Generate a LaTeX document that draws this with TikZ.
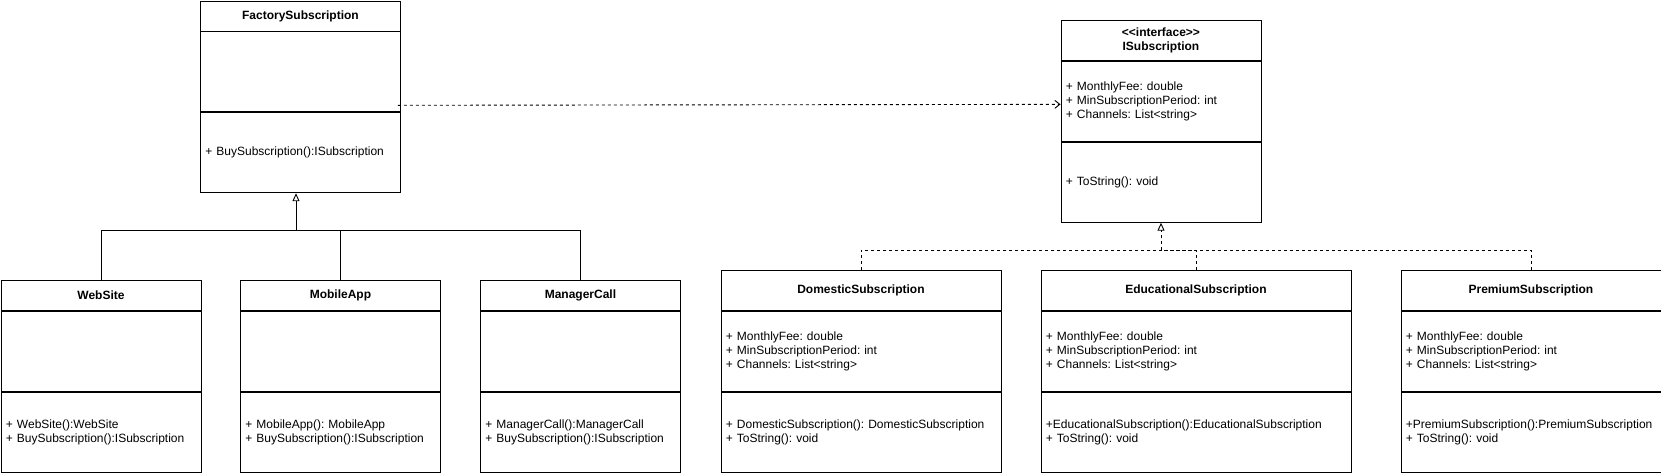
\documentclass[tikz,border=0pt]{standalone}
\usepackage{fontspec}
\setmainfont{Liberation Sans}
\usepackage{tikz}
\usetikzlibrary{arrows.meta,positioning}
\frenchspacing
\tikzset{
	kopf/.style={
			draw, line width=0.9pt, anchor=north west, minimum width=#1,
			minimum height=30pt, inner sep=0pt, align=center,
			font=\fontsize{12}{14}\selectfont\bfseries
		},
	fach/.style={
			draw, line width=0.9pt, text width=#1, inner xsep=5pt, inner ysep=0pt,
			minimum height=80pt, align=left,
			font=\fontsize{12}{14}\selectfont
		},
	linie/.style={line width=0.9pt},
	erbt/.style={linie, -{Triangle[open,length=8pt,width=7pt]}},
	realisiert/.style={erbt, dash pattern=on 3pt off 3pt},
	gestrichelt/.style={linie, dash pattern=on 3pt off 3pt},
	nutzt/.style={gestrichelt, -{Straight Barb[length=5pt,width=8pt]}}
}

\begin{document}
\begin{tikzpicture}[x=1pt, y=-1pt]
	\useasboundingbox (0,0) rectangle (1661,472);
	% Fabrik zeichnen
	\node[kopf=200pt] (fabrik) at (200,0.5) {FactorySubscription};
	\node[fach=190pt, below=0pt of fabrik] (fabrik-attr) {};
	\node[fach=190pt, below=0pt of fabrik-attr] (fabrik-meth) {+ BuySubscription():ISubscription};
	% Unterklassen der Fabrik
	\node[kopf=200pt] (webseite) at (0.5,280) {WebSite};
	\node[fach=190pt, below=0pt of webseite] (webseite-attr) {};
	\node[fach=190pt, below=0pt of webseite-attr] (webseite-meth) {+ WebSite():WebSite\\+ BuySubscription():ISubscription};
	\node[kopf=200pt] (app) at (240,280) {MobileApp};
	\node[fach=190pt, below=0pt of app] (app-attr) {};
	\node[fach=190pt, below=0pt of app-attr] (app-meth) {+ MobileApp(): MobileApp\\+ BuySubscription():ISubscription};
	\node[kopf=200pt] (anruf) at (480,280) {ManagerCall};
	\node[fach=190pt, below=0pt of anruf] (anruf-attr) {};
	\node[fach=190pt, below=0pt of anruf-attr] (anruf-meth) {+ ManagerCall():ManagerCall\\+ BuySubscription():ISubscription};
	% Schnittstelle
	\node[kopf=200pt, minimum height=40pt] (iface) at (1060.5,20) {<{}<interface>{}>\\ISubscription};
	\node[fach=190pt, below=0pt of iface] (iface-attr) {+ MonthlyFee: double\\+ MinSubscriptionPeriod: int\\+ Channels: List<string>};
	\node[fach=190pt, below=0pt of iface-attr] (iface-meth) {+ ToString(): void};
	% Abonnements
	\node[kopf=280pt, minimum height=40pt] (inland) at (720.5,270) {DomesticSubscription};
	\node[fach=270pt, below=0pt of inland] (inland-attr) {+ MonthlyFee: double\\+ MinSubscriptionPeriod: int\\+ Channels: List<string>};
	\node[fach=270pt, below=0pt of inland-attr] (inland-meth) {+ DomesticSubscription(): DomesticSubscription\\+ ToString(): void};
	\node[kopf=310pt, minimum height=40pt] (bildung) at (1040.5,270) {EducationalSubscription};
	\node[fach=300pt, below=0pt of bildung] (bildung-attr) {+ MonthlyFee: double\\+ MinSubscriptionPeriod: int\\+ Channels: List<string>};
	\node[fach=300pt, below=0pt of bildung-attr] (bildung-meth) {+EducationalSubscription():EducationalSubscription\\+ ToString(): void};
	\node[kopf=260pt, minimum height=40pt] (premium) at (1400.5,270) {PremiumSubscription};
	\node[fach=250pt, below=0pt of premium] (premium-attr) {+ MonthlyFee: double\\+ MinSubscriptionPeriod: int\\+ Channels: List<string>};
	\node[fach=250pt, below=0pt of premium-attr] (premium-meth) {+PremiumSubscription():PremiumSubscription\\+ ToString(): void};
	% Vererbung
	\coordinate (verteiler) at (296,230);
	\draw[linie] (webseite.north) |- (verteiler);
	\draw[linie] (app.north) |- (verteiler);
	\draw[linie] (anruf.north) |- (verteiler);
	\draw[erbt] (verteiler) -- (verteiler |- fabrik-meth.south);
	% Realisierung
	\coordinate (sammler) at (1161,250);
	\draw[gestrichelt] (inland.north) |- (sammler);
	\draw[gestrichelt] (bildung.north) |- (sammler);
	\draw[gestrichelt] (premium.north) |- (sammler);
	\draw[realisiert] (sammler) -- (sammler |- iface-meth.south);
	% Abhaengigkeit
	\draw[nutzt] ([xshift=-3pt,yshift=7pt]fabrik-meth.north east) -- ([yshift=-3pt]iface-attr.west);
\end{tikzpicture}
\end{document}
